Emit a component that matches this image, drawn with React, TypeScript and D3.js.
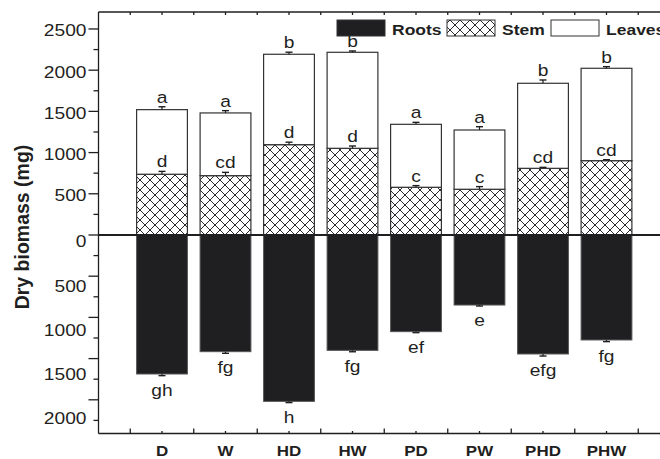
import React, { useRef, useEffect } from 'react';
import * as d3 from 'd3';

const treatments = ['D', 'W', 'HD', 'HW', 'PD', 'PW', 'PHD', 'PHW'];
const rootsMg = [1687, 1416, 2019, 1400, 1173, 850, 1444, 1274];
const stemMg = [737, 720, 1096, 1052, 579, 555, 809, 902];
const leavesMg = [784, 761, 1097, 1165, 764, 719, 1032, 1121];
const rootsErr = [20, 20, 15, 17, 12, 12, 25, 20];
const stemErr = [35, 40, 30, 28, 20, 32, 12, 12];
const leavesErr = [35, 28, 25, 16, 24, 40, 40, 20];
const rootsLetters = ['gh', 'fg', 'h', 'fg', 'ef', 'e', 'efg', 'fg'];
const stemLetters = ['d', 'cd', 'd', 'd', 'c', 'c', 'cd', 'cd'];
const leavesLetters = ['a', 'a', 'b', 'b', 'a', 'a', 'b', 'b'];
const upperTicks = [500, 1000, 1500, 2000, 2500];
const lowerTicks = [0, 500, 1000, 1500, 2000];
const legendItems = ['Roots', 'Stem', 'Leaves'];

const FONT = '"Liberation Sans", Arial, Helvetica, sans-serif';
const INK = '#1f1f22';
const SX = 1.13; // the figure's text is a bit wide

const App = () => {
  const ref = useRef<SVGSVGElement>(null);

  useEffect(() => {
    const svg = d3.select(ref.current);
    svg.selectAll('*').remove();

    const width = 660;
    const height = 459;
    const left = 98.5;
    const top = 12;
    const bottom = 433.5;

    const x = d3.scaleLinear().domain([0, 9]).range([left, left + 9 * 63.5]);
    const y = d3.scaleLinear().domain([-2409, 2706]).range([bottom, top]);
    const y0 = y(0);
    // lower tick labels sit a little lower than their ticks in the original
    const yLowLabel = d3.scaleLinear().domain([0, 2000]).range([y0 + 6.5, y0 + 183]);
    const bw = x(0.8) - x(0);

    svg.attr('viewBox', `0 0 ${width} ${height}`);

    const defs = svg.append('defs');
    const pat = defs.append('pattern').attr('id', 'xhatch').attr('patternUnits', 'userSpaceOnUse')
      .attr('width', 10).attr('height', 10);
    pat.append('rect').attr('width', 10).attr('height', 10).attr('fill', '#fff');
    pat.append('path').attr('d', 'M0,0L10,10M-1,9L1,11M9,-1L11,1M10,0L0,10M-1,1L1,-1M9,11L11,9')
      .attr('stroke', '#2a2a2e').attr('stroke-width', 1);

    const txt = (g, tx, ty, s, size, weight, anchor) =>
      g.append('text').attr('transform', `translate(${tx},${ty}) scale(${SX},1)`)
        .attr('text-anchor', anchor).attr('font-family', FONT).attr('font-size', size)
        .attr('font-weight', weight).attr('fill', INK).text(s);

    const bars = svg.append('g');
    treatments.forEach((t, i) => {
      const cx = x(i + 1);
      const total = stemMg[i] + leavesMg[i];
      // roots (down)
      bars.append('rect').attr('x', cx - bw / 2).attr('y', y0).attr('width', bw)
        .attr('height', y(-rootsMg[i]) - y0).attr('fill', INK).attr('stroke', '#555').attr('stroke-width', 1);
      // stem
      bars.append('rect').attr('x', cx - bw / 2).attr('y', y(stemMg[i])).attr('width', bw)
        .attr('height', y0 - y(stemMg[i])).attr('fill', 'url(#xhatch)').attr('stroke', '#333').attr('stroke-width', 1.2);
      // leaves
      bars.append('rect').attr('x', cx - bw / 2).attr('y', y(total)).attr('width', bw)
        .attr('height', y(stemMg[i]) - y(total)).attr('fill', '#fff').attr('stroke', '#333').attr('stroke-width', 1.2);

      // error bars
      const eb = (from, to) => {
        bars.append('line').attr('x1', cx).attr('x2', cx).attr('y1', y(from)).attr('y2', y(to))
          .attr('stroke', INK).attr('stroke-width', 1.2);
        bars.append('line').attr('x1', cx - 3.5).attr('x2', cx + 3.5).attr('y1', y(to)).attr('y2', y(to))
          .attr('stroke', INK).attr('stroke-width', 1.4);
      };
      eb(total, total + leavesErr[i]);
      eb(stemMg[i], stemMg[i] + stemErr[i]);
      eb(-rootsMg[i], -rootsMg[i] - rootsErr[i]);
    });

    // zero line
    svg.append('line').attr('x1', left).attr('x2', width).attr('y1', y0).attr('y2', y0)
      .attr('stroke', INK).attr('stroke-width', 2);

    // frame
    const ax = svg.append('g').attr('stroke', INK).attr('stroke-width', 1.3).attr('fill', 'none');
    ax.append('line').attr('x1', left).attr('x2', width).attr('y1', top).attr('y2', top);
    ax.append('line').attr('x1', left).attr('x2', width).attr('y1', bottom).attr('y2', bottom);
    ax.append('line').attr('x1', left).attr('x2', left).attr('y1', top).attr('y2', bottom);

    // y ticks
    d3.range(-2250, 2501, 250).forEach(v => {
      const major = v % 500 === 0;
      ax.append('line').attr('x1', left - (major ? 10 : 5)).attr('x2', left).attr('y1', y(v)).attr('y2', y(v));
    });
    // x ticks
    d3.range(0.5, 9, 0.5).forEach(v => {
      const major = v % 1 !== 0;
      ax.append('line').attr('x1', x(v)).attr('x2', x(v)).attr('y1', bottom).attr('y2', bottom - (major ? 5 : 2.5));
      ax.append('line').attr('x1', x(v)).attr('x2', x(v)).attr('y1', top).attr('y2', top + 3);
    });

    const labels = svg.append('g');
    upperTicks.forEach(v => txt(labels, left - 12, y(v) + 7.5, String(v), 17, 'normal', 'end'));
    lowerTicks.forEach(v => txt(labels, left - 12, yLowLabel(v) + 6, String(v), 17, 'normal', 'end'));
    treatments.forEach((t, i) => {
      const cx = x(i + 1);
      const total = stemMg[i] + leavesMg[i];
      txt(labels, cx, 456, t, 15, 'bold', 'middle');
      txt(labels, cx, y(total + leavesErr[i]) - 4, leavesLetters[i], 17, 'normal', 'middle');
      txt(labels, cx, y(stemMg[i] + stemErr[i]) - 4, stemLetters[i], 17, 'normal', 'middle');
      txt(labels, cx, y(-rootsMg[i] - rootsErr[i]) + 20, rootsLetters[i], 17, 'normal', 'middle');
    });

    svg.append('text').attr('transform', `translate(28.5,227) rotate(-90)`).attr('text-anchor', 'middle')
      .attr('font-family', FONT).attr('font-size', 19.5).attr('font-weight', 'bold').attr('fill', INK)
      .text('Dry biomass (mg)');

    // legend
    const fills = [INK, 'url(#xhatch)', '#fff'];
    const lx = [337, 447, 551];
    const lg = svg.append('g');
    legendItems.forEach((name, i) => {
      lg.append('rect').attr('x', lx[i]).attr('y', 20).attr('width', 48).attr('height', 16)
        .attr('fill', fills[i]).attr('stroke', '#333').attr('stroke-width', 1);
      txt(lg, lx[i] + 55, 35, name, 15.5, 'bold', 'start');
    });
  }, []);

  return (
    <svg ref={ref} width={660} height={459}
      style={{ position: 'absolute', left: 0, top: 0, display: 'block', background: '#fff' }} />
  );
};

export default App;
